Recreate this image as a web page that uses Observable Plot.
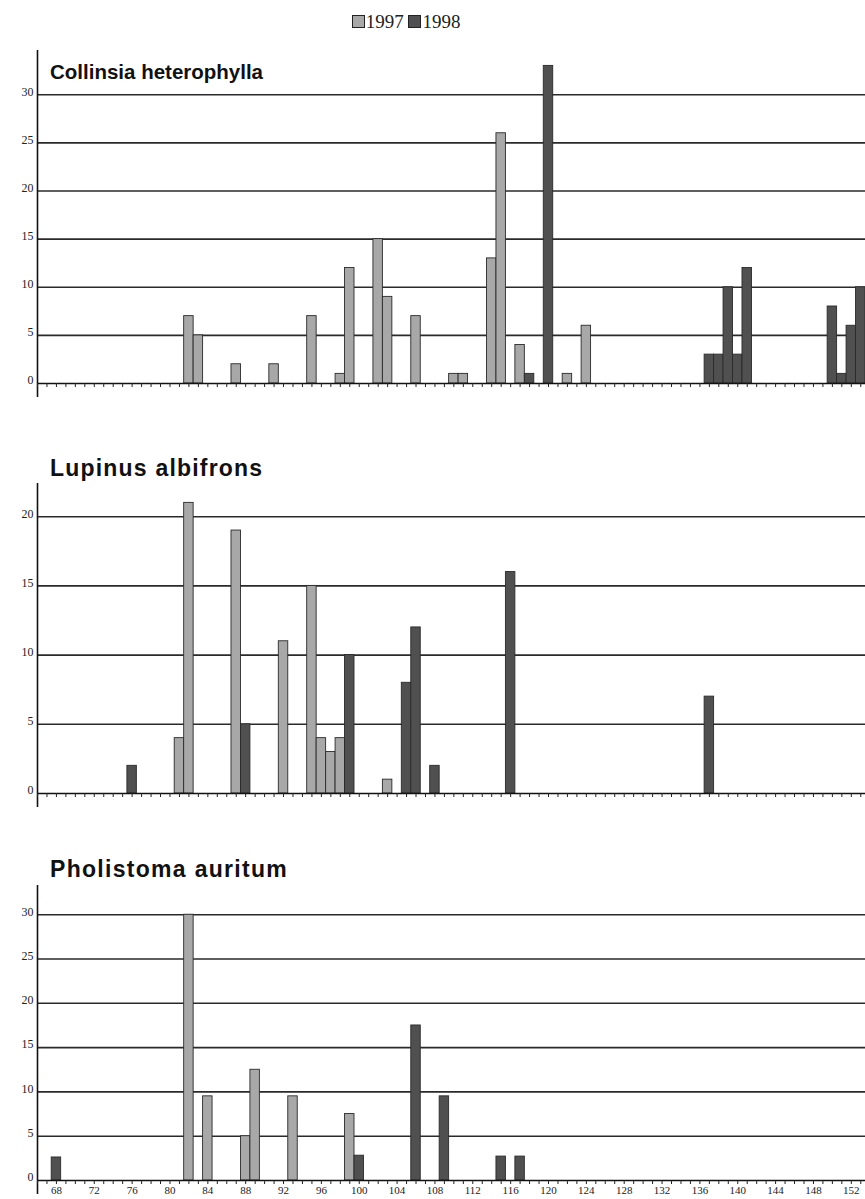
<!DOCTYPE html>
<html><head><meta charset="utf-8">
<script src="https://cdn.jsdelivr.net/npm/d3@7"></script>
<script src="https://cdn.jsdelivr.net/npm/@observablehq/plot@0.6"></script>
<style>
body{margin:0;background:#fff;width:865px;height:1199px;position:relative;overflow:hidden;}
.panel{position:absolute;left:0;}
.title{position:absolute;left:50px;font-family:"Liberation Sans",Arial,sans-serif;font-weight:bold;color:#111;line-height:1;white-space:nowrap;}
#legend{position:absolute;top:12px;left:0;width:812px;text-align:center;font:19px "Liberation Serif","Times New Roman",serif;color:#222;line-height:1;}
#legend .sw{display:inline-block;width:11px;height:11px;border:1px solid #222;margin-right:1px;vertical-align:0px;}
</style>
</head><body>
<div id="legend"></div>
<div id="root"></div>
<script>
// ---- data ----
const years = ["1997", "1998"];
const yearColors = ["#a8a8a8", "#505050"];
const speciesNames = ["Collinsia heterophylla", "Lupinus albifrons", "Pholistoma auritum"];

const collinsia1997Days = [82, 83, 87, 91, 95, 98, 99, 102, 103, 106, 110, 111, 114, 115, 117, 122, 124];
const collinsia1997Vals = [7, 5, 2, 2, 7, 1, 12, 15, 9, 7, 1, 1, 13, 26, 4, 1, 6];
const collinsia1998Days = [118, 120, 137, 138, 139, 140, 141, 150, 151, 152, 153];
const collinsia1998Vals = [1, 33, 3, 3, 10, 3, 12, 8, 1, 6, 10];

const lupinus1997Days = [81, 82, 87, 92, 95, 96, 97, 98, 103];
const lupinus1997Vals = [4, 21, 19, 11, 15, 4, 3, 4, 1];
const lupinus1998Days = [76, 88, 99, 105, 106, 108, 116, 137];
const lupinus1998Vals = [2, 5, 10, 8, 12, 2, 16, 7];

const pholistoma1997Days = [82, 84, 88, 89, 93, 99];
const pholistoma1997Vals = [30, 9.5, 5, 12.5, 9.5, 7.5];
const pholistoma1998Days = [68, 100, 106, 109, 115, 117];
const pholistoma1998Vals = [2.6, 2.8, 17.5, 9.5, 2.7, 2.7];

const collinsiaTicks = [0, 5, 10, 15, 20, 25, 30];
const lupinusTicks = [0, 5, 10, 15, 20];
const pholistomaTicks = [0, 5, 10, 15, 20, 25, 30];
const dayTicks = d3.range(66, 154);

// ---- helpers ----
function rows(days, vals, year) {
  return days.map((d, i) => ({day: d, value: vals[i], year}));
}

function panel({data, yMax, ticks, top, height, marginTop, marginBottom, labels}) {
  const plotH = height - marginTop - marginBottom;
  const below = 14 / (plotH / yMax);
  const p = Plot.plot({
    width: 865, height, marginLeft: 37, marginRight: 0, marginTop, marginBottom,
    x: {domain: [66, 153.5], label: null},
    y: {domain: [0, yMax], label: null},
    color: {domain: years, range: yearColors},
    style: {background: "transparent", fontFamily: "'Liberation Serif','Times New Roman',serif", color: "#222"},
    marks: [
      Plot.ruleY(ticks.filter(v => v > 0), {x1: 66, x2: 153.5, stroke: "#2a2a2a", strokeWidth: 1.6}),
      Plot.rectY(data, {x1: d => d.day - 0.5, x2: d => d.day + 0.5, y: "value", fill: "year", stroke: "#2a2a2a", strokeWidth: 0.9}),
      Plot.ruleY([0], {stroke: "#111", strokeWidth: 1.6}),
      Plot.ruleX([66], {y1: yMax, y2: -below, stroke: "#111", strokeWidth: 1.6}),
      Plot.axisX({ticks: dayTicks, tickSize: 4, tickPadding: 2, fontSize: 11, label: null,
        tickFormat: labels ? (d => d % 4 === 0 ? String(d) : "") : (() => "")}),
      Plot.axisY({ticks, tickSize: 0, tickPadding: 4, dy: -3, fontSize: 12, label: null, tickFormat: d => String(d)})
    ]
  });
  p.classList.add("panel");
  p.style.top = top + "px";
  return p;
}

const root = document.getElementById("root");
root.append(panel({
  data: [...rows(collinsia1997Days, collinsia1997Vals, "1997"), ...rows(collinsia1998Days, collinsia1998Vals, "1998")],
  yMax: 34.6, ticks: collinsiaTicks, top: 40, height: 370, marginTop: 10, marginBottom: 27, labels: false
}));
root.append(panel({
  data: [...rows(lupinus1997Days, lupinus1997Vals, "1997"), ...rows(lupinus1998Days, lupinus1998Vals, "1998")],
  yMax: 22.4, ticks: lupinusTicks, top: 475, height: 345, marginTop: 8, marginBottom: 27, labels: false
}));
root.append(panel({
  data: [...rows(pholistoma1997Days, pholistoma1997Vals, "1997"), ...rows(pholistoma1998Days, pholistoma1998Vals, "1998")],
  yMax: 33.3, ticks: pholistomaTicks, top: 877, height: 322, marginTop: 8, marginBottom: 19, labels: true
}));

// titles
[[speciesNames[0], 62, 20.5, 0], [speciesNames[1], 457, 23, 1.2], [speciesNames[2], 858, 23, 1.3]].forEach(([t, y, fs, ls]) => {
  const d = document.createElement("div");
  d.className = "title";
  d.style.top = y + "px";
  d.style.fontSize = fs + "px";
  d.style.letterSpacing = ls + "px";
  d.textContent = t;
  document.body.append(d);
});

// legend
const lg = document.getElementById("legend");
years.forEach((y, i) => {
  const s = document.createElement("span");
  s.className = "sw";
  s.style.background = yearColors[i];
  lg.append(s);
  lg.append(document.createTextNode(y + (i === 0 ? " " : "")));
});
</script>
</body></html>
